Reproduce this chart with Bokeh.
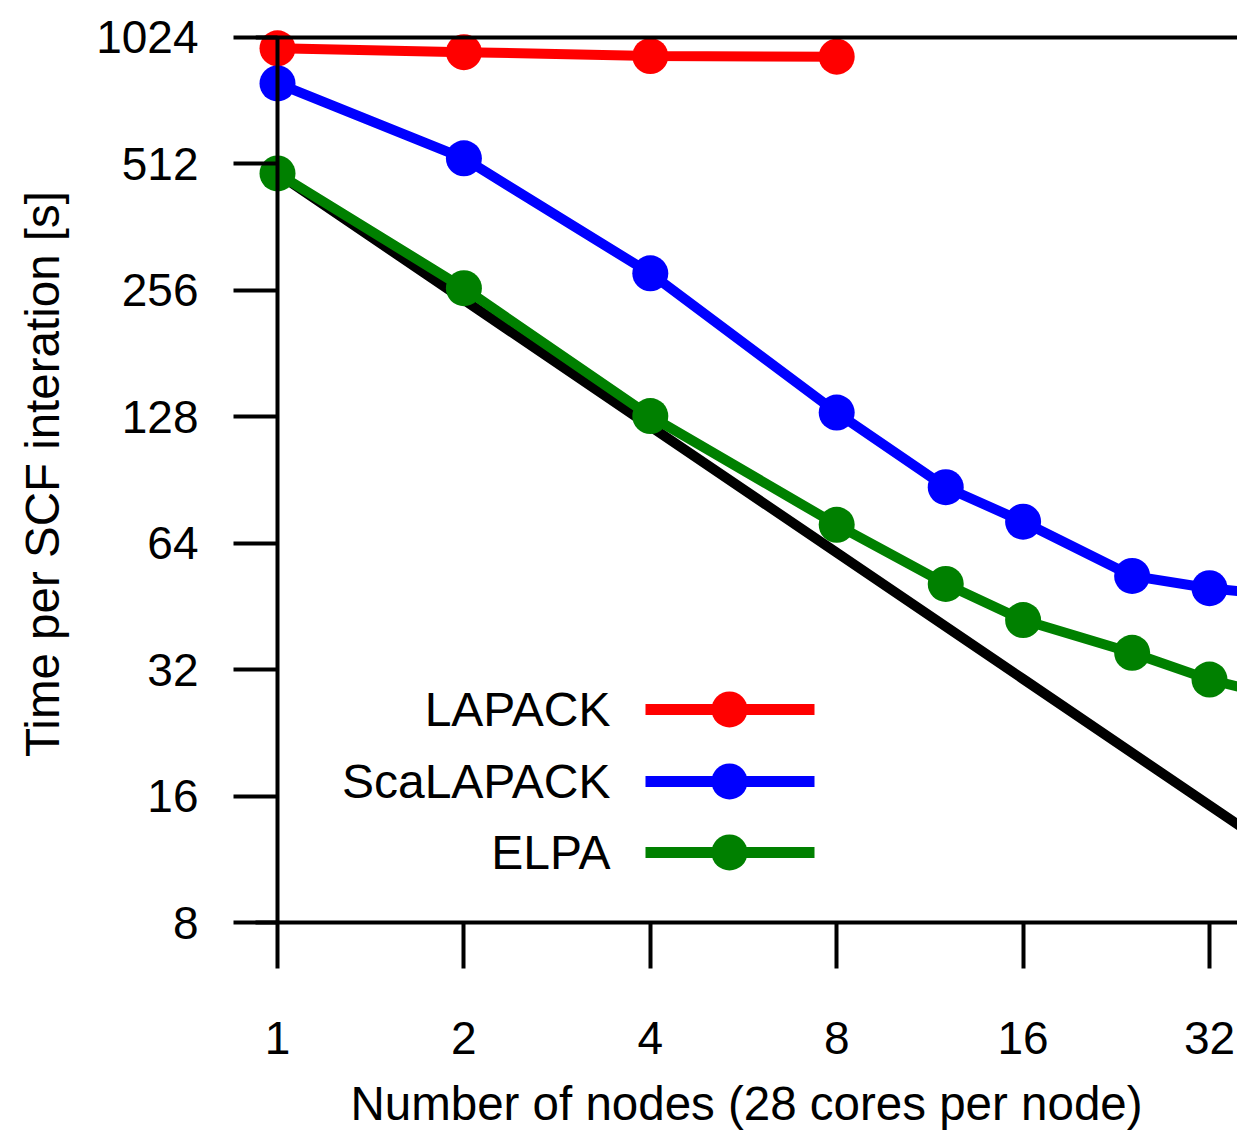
import math
from bokeh.plotting import figure
from bokeh.models import Range1d, FixedTicker, PrintfTickFormatter, Span
from bokeh.core.properties import value
from bokeh.embed import file_html
from bokeh.resources import INLINE

# ---------------- data ----------------
nodes_lapack = [1, 2, 4, 8]
time_lapack = [965, 945, 925, 922]

nodes_scalapack = [1, 2, 4, 8, 12, 16, 24, 32, 64]
time_scalapack = [796, 528, 281, 131, 87, 72, 53.5, 50, 45]

nodes_elpa = [1, 2, 4, 8, 12, 16, 24, 32, 64]
time_elpa = [486, 259, 128.5, 70.8, 51.2, 42, 35.1, 30.3, 23.5]

nodes_ideal = [1, 2, 4, 8, 16, 32, 64]
time_ideal = [486, 243, 121.5, 60.75, 30.4, 15.2, 7.6]

x_ticks = [1, 2, 4, 8, 16, 32]
y_ticks = [8, 16, 32, 64, 128, 256, 512, 1024]

legend_labels = ["LAPACK", "ScaLAPACK", "ELPA"]
colors = ["#ff0000", "#0000ff", "#008000"]

x_title = "Number of nodes (28 cores per node)"
y_title = "Time per SCF interation [s]"

# ---------------- layout constants (pixels) ----------------
W, H = 1237, 1134
X_ONE_PX = 277        # pixel of x = 1
X_OCT_PX = 186.4      # pixels per doubling on x
Y_TOP_PX = 37         # pixel of y = 1024
Y_OCT_PX = 126.43     # pixels per doubling on y
FRAME_LEFT, FRAME_RIGHT = 255, W
FRAME_TOP, FRAME_BOTTOM = 25, 922

def px_to_x(px):
    return 2 ** ((px - X_ONE_PX) / X_OCT_PX)

def py_to_y(py):
    return 1024 * 2 ** (-(py - Y_TOP_PX) / Y_OCT_PX)

FONT = "Liberation Sans"

p = figure(width=W, height=H,
           x_axis_type="log", y_axis_type="log",
           x_range=Range1d(px_to_x(FRAME_LEFT), px_to_x(FRAME_RIGHT)),
           y_range=Range1d(8, py_to_y(FRAME_TOP)),
           output_backend="svg", toolbar_location=None,
           min_border_left=FRAME_LEFT, min_border_right=0,
           min_border_top=FRAME_TOP, min_border_bottom=H - FRAME_BOTTOM)
p.outline_line_color = None
p.grid.visible = False
p.background_fill_color = "white"

for ax in (p.xaxis[0], p.yaxis[0]):
    ax.axis_line_width = 4
    ax.axis_line_color = "black"
    ax.major_tick_line_width = 4
    ax.major_tick_line_color = "black"
    ax.major_tick_in = 0
    ax.minor_tick_line_color = None
    ax.major_label_text_font = FONT
    ax.major_label_text_font_size = "46px"
    ax.major_label_text_color = "black"
    ax.axis_label_text_font = FONT
    ax.axis_label_text_font_size = "47.5px"
    ax.axis_label_text_font_style = "normal"
    ax.axis_label_text_color = "black"
    ax.formatter = PrintfTickFormatter(format="%d")

p.xaxis[0].ticker = FixedTicker(ticks=x_ticks)
p.yaxis[0].ticker = FixedTicker(ticks=y_ticks)
p.xaxis[0].major_tick_out = 46
# y axis sits at the frame edge (left of x = 1); ticks reach across to x = 1
p.yaxis[0].axis_line_color = None
p.yaxis[0].major_tick_out = int(X_ONE_PX - FRAME_LEFT)
p.yaxis[0].major_tick_in = int(X_ONE_PX - FRAME_LEFT)
p.xaxis[0].major_label_standoff = 53
p.yaxis[0].major_label_standoff = 35
p.xaxis[0].axis_label_standoff = 20
p.yaxis[0].axis_label_standoff = 24
p.xaxis[0].axis_label = x_title
p.yaxis[0].axis_label = y_title

p.add_layout(Span(location=1024, dimension="width", line_color="black", line_width=4))

# ideal scaling
p.line(nodes_ideal, time_ideal, line_color="black", line_width=10)

series = [(nodes_lapack, time_lapack), (nodes_scalapack, time_scalapack), (nodes_elpa, time_elpa)]
for (xs, ys), c in zip(series, colors):
    p.line(xs, ys, line_color=c, line_width=10)
    p.scatter(xs, ys, size=36, fill_color=c, line_color=None, marker="circle")

# vertical axis line at x = 1, drawn over the markers
p.segment(x0=[x_ticks[0]], y0=[y_ticks[0]], x1=[x_ticks[0]], y1=[y_ticks[-1]],
          line_color="black", line_width=4)

# legend (labels left of samples)
leg_rows_px = [709, 781, 852]
for lab, c, ry in zip(legend_labels, colors, leg_rows_px):
    yy = py_to_y(ry)
    p.line([px_to_x(645), px_to_x(814)], [yy, yy], line_color=c, line_width=11)
    p.scatter([px_to_x(729)], [yy], size=36, fill_color=c, line_color=None, marker="circle")
    p.text(x=[px_to_x(610)], y=[yy], text=[lab], text_align="right", text_baseline="middle",
           text_font=value(FONT), text_font_size="48px", text_color="black")

open("out.html", "w").write(file_html(p, INLINE))
